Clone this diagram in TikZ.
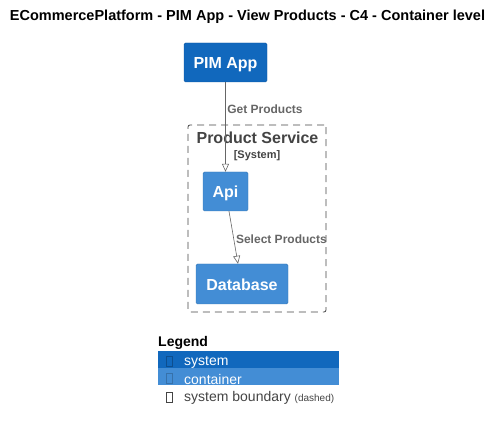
\documentclass[tikz,border=0pt]{standalone}
\usepackage{fontspec}
\setmainfont{Liberation Sans}
\usetikzlibrary{arrows.meta}
\definecolor{sysblue}{HTML}{1168BD}
\definecolor{contblue}{HTML}{438DD5}
\definecolor{relgray}{HTML}{666666}
\definecolor{bndgray}{HTML}{444444}
\tikzset{
  element/.style={rectangle,rounded corners=1.5pt,draw=#1!85!black,fill=#1,text=white,
    font=\fontsize{16}{18}\selectfont\bfseries,inner sep=0pt,text depth=0pt,text height=13pt},
  rel/.style={draw=relgray,-{Triangle[open,length=8pt,width=7pt]},line width=0.6pt},
  rellabel/.style={text=relgray,font=\fontsize{12}{14}\selectfont\bfseries,inner sep=1pt},
  legendrow/.style={fill=#1,draw=none,minimum width=181pt,minimum height=17pt,inner sep=0pt},
  legendtext/.style={anchor=west,inner sep=0pt,text=#1,font=\fontsize{14}{16}\selectfont},
  tofu/.style={draw=#1,line width=0.5pt,minimum width=6pt,minimum height=10pt,inner sep=0pt}
}
\begin{document}
\begin{tikzpicture}[x=1pt,y=-1pt]
  \useasboundingbox (0,0) rectangle (504,430);
  % title
  \node[font=\fontsize{14.5}{16}\selectfont\bfseries] (title) at (247.5,17) {ECommercePlatform - PIM App - View Products - C4 - Container level};
  % system boundary
  \node[draw=bndgray,dash pattern=on 7pt off 5pt,rounded corners=2pt,line width=0.8pt,
    minimum width=138pt,minimum height=187pt] (boundary) at (257,218.5) {};
  \node[text=bndgray,font=\fontsize{16}{18}\selectfont\bfseries] (bndname) at (257.5,138) {Product Service};
  \node[text=bndgray,font=\fontsize{11}{13}\selectfont\bfseries] (bndtype) at (257,156) {[System]};
  % elements
  \node[element=sysblue,minimum width=83pt,minimum height=39pt] (pim) at (225.5,62.5) {PIM App};
  \node[element=contblue,minimum width=45pt,minimum height=39pt] (api) at (225.5,191.5) {Api};
  \node[element=contblue,minimum width=92pt,minimum height=40pt] (db) at (242,284) {Database};
  % relations
  \draw[rel] (pim.south) -- node[rellabel,pos=0.3,anchor=west,xshift=0.5pt] (getlbl) {Get Products} (api.north);
  \draw[rel] ([xshift=3.5pt]api.south) -- node[rellabel,pos=0.53,anchor=west,xshift=1pt] (sellbl) {Select Products} ([xshift=-4pt]db.north);
  % legend
  \node[anchor=west,inner sep=0pt,font=\fontsize{14}{16}\selectfont\bfseries] (legend) at (158,343) {Legend};
  \node[legendrow=sysblue] (lsys) at (248.5,360) {};
  \node[legendrow=contblue] (lcont) at (248.5,377) {};
  \node[tofu=sysblue!75!black] (tsys) at (169,361) {};
  \node[tofu=contblue!80!black] (tcont) at (169,378) {};
  \node[tofu=bndgray] (tbnd) at (169,397) {};
  \node[legendtext=white] (lsystxt) at (184,362) {system};
  \node[legendtext=white] (lconttxt) at (184,379) {container};
  \node[legendtext=bndgray] (lbndtxt) at (184,397.5)
    {system boundary \fontsize{10}{11}\selectfont(dashed)};
\end{tikzpicture}
\end{document}
